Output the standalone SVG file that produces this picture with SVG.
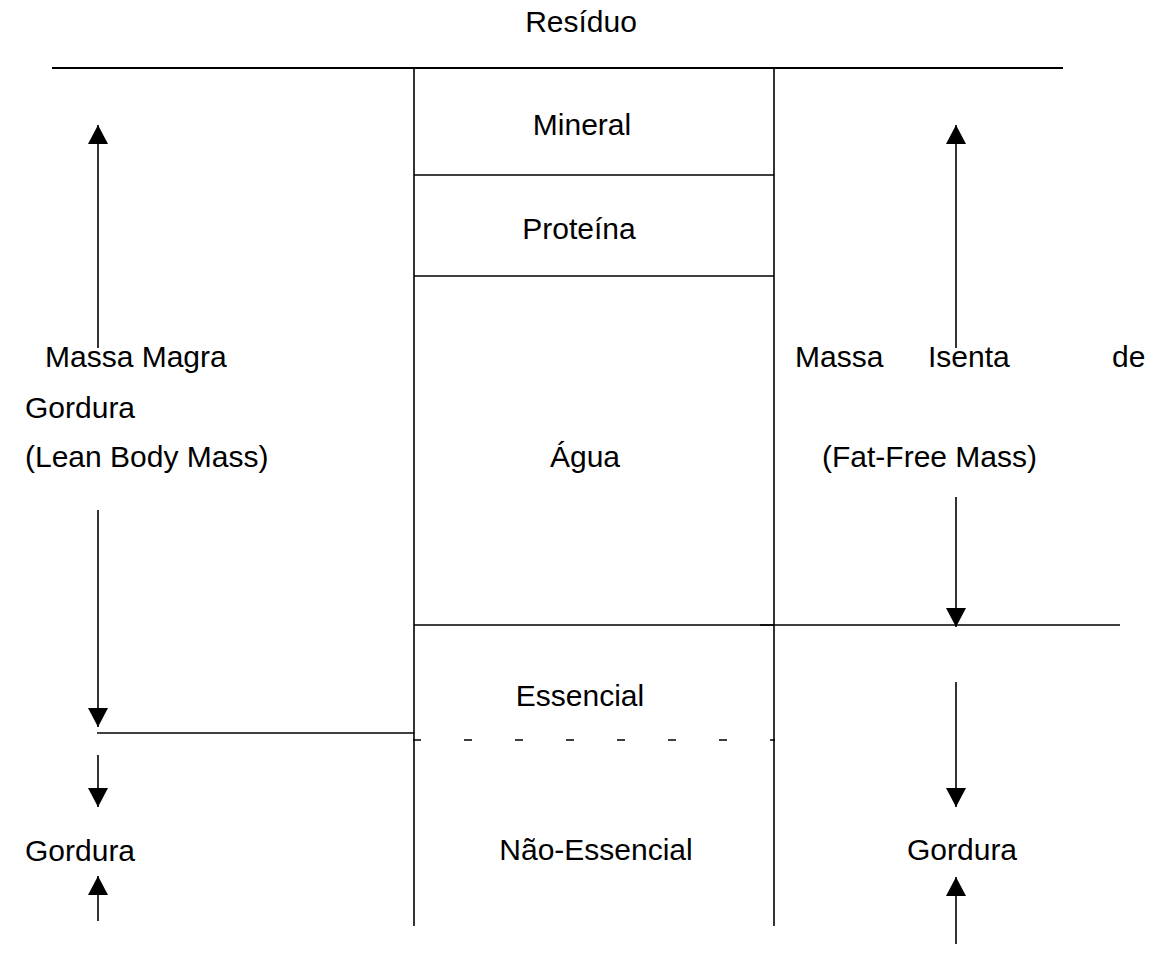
<svg xmlns="http://www.w3.org/2000/svg" width="1153" height="957" viewBox="0 0 1153 957">
<style>
text{font-family:"Liberation Sans",Arial,sans-serif;font-size:30px;fill:#000}
.ln{stroke:#000;stroke-width:1.6;fill:none}
.thick{stroke:#000;stroke-width:2.2;fill:none}
.ar{stroke:#000;stroke-width:1.6;fill:none;marker-end:url(#ah)}
.dash{stroke:#000;stroke-width:1.6;stroke-dasharray:8 43;fill:none}
</style>
<defs>
<marker id="ah" markerUnits="userSpaceOnUse" markerWidth="20" markerHeight="20" viewBox="0 0 20 20" refX="19" refY="10" orient="auto">
<path d="M0,0 L19,10 L0,20 Z" fill="#000"/>
</marker>
</defs>
<rect width="1153" height="957" fill="#fff"/>
<g id="structure">
<line class="thick" x1="52" y1="68" x2="1063" y2="68"/>
<line class="ln" x1="414" y1="68" x2="414" y2="926"/>
<line class="ln" x1="774" y1="68" x2="774" y2="926"/>
<line class="ln" x1="414" y1="175" x2="774" y2="175"/>
<line class="ln" x1="414" y1="276" x2="774" y2="276"/>
<line class="ln" x1="414" y1="625" x2="774" y2="625"/>
<line class="ln" x1="760" y1="625" x2="1120" y2="625"/>
<line class="ln" x1="97" y1="733" x2="414" y2="733"/>
<line class="dash" x1="413" y1="740" x2="775" y2="740"/>
</g>
<g id="connectors">
<line class="ar" x1="98" y1="348" x2="98" y2="125"/>
<line class="ar" x1="98" y1="510" x2="98" y2="727"/>
<line class="ar" x1="956" y1="348" x2="956" y2="125"/>
<line class="ar" x1="956" y1="497" x2="956" y2="627"/>
<line class="ar" x1="98" y1="755" x2="98" y2="807"/>
<line class="ar" x1="956" y1="682" x2="956" y2="807"/>
<line class="ar" x1="98" y1="921" x2="98" y2="876"/>
<line class="ar" x1="956" y1="944" x2="956" y2="877"/>
</g>
<g id="residuo"><text x="581" y="32" text-anchor="middle">Resíduo</text></g>
<g id="mineral"><text x="582" y="135" text-anchor="middle">Mineral</text></g>
<g id="proteina"><text x="579" y="239" text-anchor="middle">Proteína</text></g>
<g id="agua"><text x="585" y="467" text-anchor="middle">Água</text></g>
<g id="massa-magra">
<text x="45" y="367">Massa Magra</text>
<text x="25" y="418">Gordura</text>
<text x="25" y="467">(Lean Body Mass)</text>
</g>
<g id="massa-isenta">
<text x="795" y="367">Massa</text>
<text x="928" y="367">Isenta</text>
<text x="1112" y="367">de</text>
<text x="822" y="467">(Fat-Free Mass)</text>
</g>
<g id="essencial"><text x="580" y="706" text-anchor="middle">Essencial</text></g>
<g id="nao-essencial"><text x="596" y="860" text-anchor="middle">Não-Essencial</text></g>
<g id="gordura-left"><text x="25" y="861">Gordura</text></g>
<g id="gordura-right"><text x="907" y="860">Gordura</text></g>
</svg>
